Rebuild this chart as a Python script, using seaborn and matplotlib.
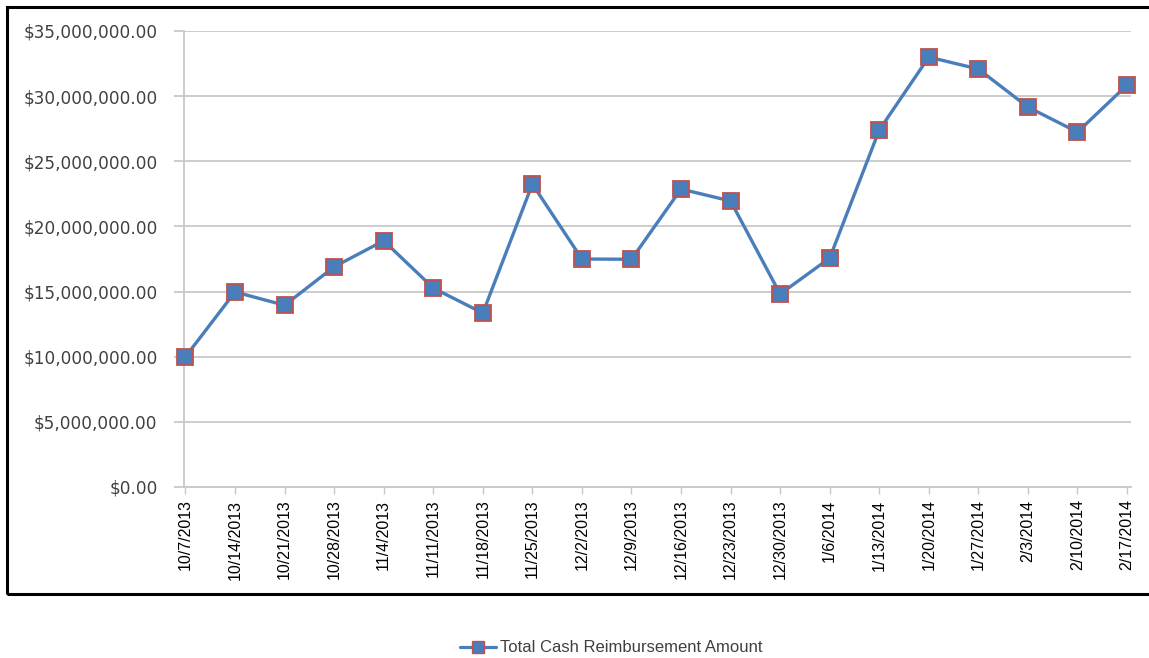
import numpy as np
import pandas as pd
import matplotlib
matplotlib.use("Agg")
import matplotlib.pyplot as plt
import seaborn as sns
from matplotlib.ticker import FuncFormatter
from matplotlib.lines import Line2D
from matplotlib.patches import Rectangle

# weekly dates and reimbursement totals
dates = ["10/7/2013", "10/14/2013", "10/21/2013", "10/28/2013", "11/4/2013",
         "11/11/2013", "11/18/2013", "11/25/2013", "12/2/2013", "12/9/2013",
         "12/16/2013", "12/23/2013", "12/30/2013", "1/6/2014", "1/13/2014",
         "1/20/2014", "1/27/2014", "2/3/2014", "2/10/2014", "2/17/2014"]
amounts = [10.0, 14.97, 13.95, 16.9, 18.9,
           15.27, 13.35, 23.25, 17.5, 17.48,
           22.87, 21.95, 14.81, 17.57, 27.4,
           33.0, 32.08, 29.16, 27.24, 30.85]
amounts = [a * 1e6 for a in amounts]
series_name = "Total Cash Reimbursement Amount"

df = pd.DataFrame({"pos": np.arange(len(dates)), "date": dates, "amount": amounts})

sns.set_theme(style="white")
plt.rcParams["font.family"] = ["DejaVu Sans"]

line_col = "#4A7EBB"
edge_col = "#C0504D"
grid_col = "#C8C8C8"
text_col = "#404040"
narrow = ["Liberation Sans Narrow", "Liberation Sans", "DejaVu Sans"]

fig = plt.figure(figsize=(11.49, 6.58), dpi=100)
ax = fig.add_axes([184 / 1149, 1 - 487 / 658, (1131 - 184) / 1149, (487 - 31) / 658])

sns.lineplot(data=df, x="pos", y="amount", ax=ax, color=line_col, lw=2.4,
             marker="s", markersize=11, markerfacecolor=line_col,
             markeredgecolor=edge_col, markeredgewidth=1.3, zorder=3, clip_on=False)

ax.set_ylim(0, 35e6)
ax.set_yticks(np.arange(0, 35e6 + 1, 5e6))
ax.yaxis.set_major_formatter(FuncFormatter(lambda v, p: f"${v:,.2f}"))
ax.set_xlim(-0.03, len(dates) - 1 + 0.08)
ax.set_xticks(df["pos"])
ax.set_xticklabels(dates, rotation=90, fontsize=11.5, color="black", family=narrow)
ax.tick_params(axis="y", left=True, labelsize=12.2, colors=text_col, length=7, width=1.3,
               color=grid_col, pad=12)
ax.tick_params(axis="x", bottom=True, length=5, width=1, color=grid_col, pad=4)
for lab in ax.get_yticklabels():
    lab.set_color(text_col)

ax.grid(axis="y", color=grid_col, lw=1.3)
ax.grid(axis="x", visible=False)
for s in ["top", "right"]:
    ax.spines[s].set_visible(False)
for s in ["left", "bottom"]:
    ax.spines[s].set_color(grid_col)
    ax.spines[s].set_linewidth(1.3)
ax.set_xlabel("")
ax.set_ylabel("")

# legend below the box
handle = Line2D([], [], color=line_col, lw=2.3, marker="s", markersize=8,
                markerfacecolor=line_col, markeredgecolor=edge_col)
leg = fig.legend([handle], [series_name], loc="center", bbox_to_anchor=(611 / 1149, 1 - 648 / 658),
                 frameon=False, handlelength=2.2, handletextpad=0.2,
                 prop={"family": narrow, "size": 12})
for t in leg.get_texts():
    t.set_color(text_col)

# black frame of the chart area
fig.patches.append(Rectangle((7 / 1149, 1 - 594 / 658), 1.2, (594 - 7) / 658,
                             transform=fig.transFigure, fill=False, ec="black", lw=2.2))

fig.savefig("out.png", dpi=100)
